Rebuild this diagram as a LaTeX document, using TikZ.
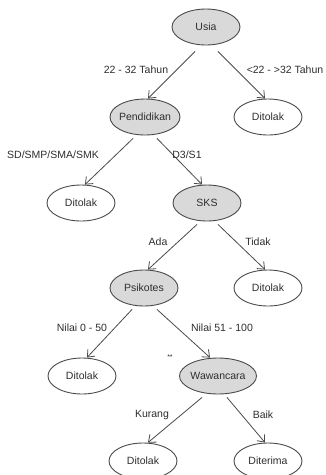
\documentclass[tikz,border=0pt]{standalone}
\usepackage{fontspec}
\setmainfont{Liberation Sans}
\usetikzlibrary{shapes.geometric,arrows.meta}
\definecolor{edgegray}{HTML}{4A4A4A}
\definecolor{fillgray}{HTML}{D9D9D9}
\definecolor{txtgray}{HTML}{2E2E2E}
\begin{document}
\begin{tikzpicture}[x=1pt,y=-1pt,
  every node/.style={font=\fontsize{10.5}{12}\selectfont, text=txtgray},
  decision/.style={ellipse, draw=edgegray, line width=0.9pt, fill=fillgray,
    minimum width=68pt, minimum height=36pt, inner xsep=-6pt, inner ysep=0pt},
  leaf/.style={decision, fill=white},
  arr/.style={draw=edgegray, line width=0.8pt, -{Straight Barb[length=6pt,width=10pt]}},
  lbl/.style={inner sep=0pt}]
\useasboundingbox (0,0) rectangle (326,475);
\fill[white] (0,0) rectangle (326,475);

% tree nodes
\node[decision] (usia) at (206,27) {Usia};
\node[decision, minimum width=70pt] (pend) at (145,117) {Pendidikan};
\node[leaf]     (tolakA) at (268,117) {Ditolak};
\node[leaf]     (tolakB) at (81,203) {Ditolak};
\node[decision] (sks) at (207,203) {SKS};
\node[decision] (psi) at (144,288) {Psikotes};
\node[leaf]     (tolakC) at (268,288) {Ditolak};
\node[leaf]     (tolakD) at (82,376) {Ditolak};
\node[decision, minimum width=77pt] (waw) at (218,376) {Wawancara};
\node[leaf]     (tolakE) at (143,461) {Ditolak};
\node[leaf]     (terima) at (268,461) {Diterima};

% branches
\draw[arr] ([xshift=-11pt,yshift=-6pt]usia.south) -- ([xshift=3pt]pend.north);
\draw[arr] ([xshift=12pt,yshift=-6pt]usia.south) -- ([xshift=-3pt]tolakA.north);
\draw[arr] ([xshift=-12pt,yshift=-3pt]pend.south) -- ([xshift=4pt]tolakB.north);
\draw[arr] ([xshift=12pt,yshift=-3pt]pend.south) -- ([xshift=-5pt]sks.north);
\draw[arr] ([xshift=-10pt,yshift=-3pt]sks.south) -- ([xshift=4pt]psi.north);
\draw[arr] ([xshift=11pt,yshift=-3pt]sks.south) -- ([xshift=-3pt]tolakC.north);
\draw[arr] ([xshift=-12pt,yshift=-3pt]psi.south) -- ([xshift=5pt]tolakD.north);
\draw[arr] ([xshift=13pt,yshift=-3pt]psi.south) -- ([xshift=-8pt]waw.north);
\draw[arr] ([xshift=-16pt,yshift=-3pt]waw.south) -- ([xshift=5pt]tolakE.north);
\draw[arr] ([xshift=9pt,yshift=-3pt]waw.south) -- ([xshift=-3pt]terima.north);

% branch labels
\node[lbl] (l1) at (136,70) {22 - 32 Tahun};
\node[lbl] (l2) at (285,70) {<22 - >32 Tahun};
\node[lbl] (l3) at (53,155) {SD/SMP/SMA/SMK};
\node[lbl] (l4) at (187,155) {D3/S1};
\node[lbl] (l5) at (158,242) {Ada};
\node[lbl] (l6) at (258,242) {Tidak};
\node[lbl] (l7) at (82,328) {Nilai 0 - 50};
\node[lbl] (l8) at (222,328) {Nilai 51 - 100};
\node[lbl] (l9) at (152,415) {Kurang};
\node[lbl] (l10) at (263,415) {Baik};
\node[lbl, font=\fontsize{7}{8}\selectfont] (stars) at (170,357) {**};
\end{tikzpicture}
\end{document}
